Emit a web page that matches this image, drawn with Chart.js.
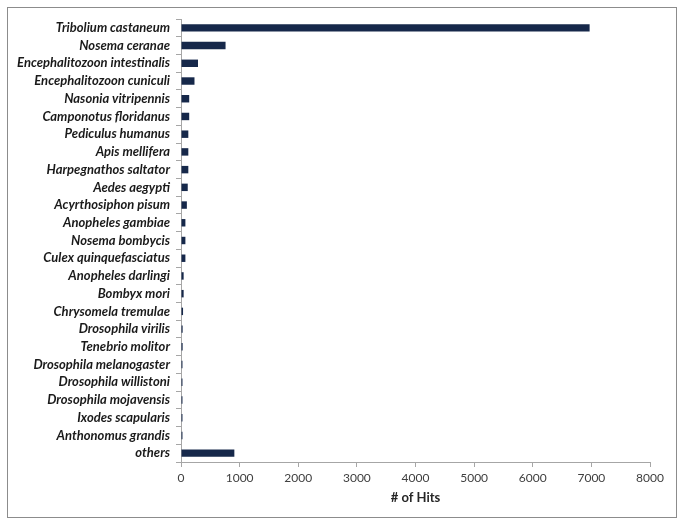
<!DOCTYPE html>
<html lang="en">
<head>
    <meta charset="UTF-8">
    <title>Hits per species</title>
    <script src="https://cdn.jsdelivr.net/npm/chart.js"></script>
    <style>
        body { margin: 0; background: #fff; }
        #frame { position: absolute; left: 7px; top: 7px; width: 668px; height: 509px; border: 1px solid #8c8c8c; }
        #wrap { position: absolute; left: 0; top: 0; width: 683px; height: 527px; }
    </style>
</head>
<body>
    <div id="frame"></div>
    <div id="wrap"><canvas id="hitsChart"></canvas></div>
    <script>
        const species = [
            'Tribolium castaneum', 'Nosema ceranae', 'Encephalitozoon intestinalis', 'Encephalitozoon cuniculi',
            'Nasonia vitripennis', 'Camponotus floridanus', 'Pediculus humanus', 'Apis mellifera',
            'Harpegnathos saltator', 'Aedes aegypti', 'Acyrthosiphon pisum', 'Anopheles gambiae',
            'Nosema bombycis', 'Culex quinquefasciatus', 'Anopheles darlingi', 'Bombyx mori',
            'Chrysomela tremulae', 'Drosophila virilis', 'Tenebrio molitor', 'Drosophila melanogaster',
            'Drosophila willistoni', 'Drosophila mojavensis', 'Ixodes scapularis', 'Anthonomus grandis', 'others'
        ];
        const hits = [
            6970, 760, 290, 230,
            140, 140, 125, 125,
            125, 115, 100, 75,
            75, 75, 45, 45,
            35, 28, 28, 25,
            25, 25, 25, 25, 910
        ];
        const xTicks = [0, 1000, 2000, 3000, 4000, 5000, 6000, 7000, 8000];

        const fontFamily = 'Lato, "Open Sans", sans-serif';

        new Chart(document.getElementById('hitsChart'), {
            type: 'bar',
            data: {
                labels: species,
                datasets: [{
                    data: hits,
                    backgroundColor: '#16284a',
                    barPercentage: 0.42,
                    categoryPercentage: 1
                }]
            },
            options: {
                indexAxis: 'y',
                responsive: true,
                maintainAspectRatio: false,
                animation: false,
                layout: { padding: { left: 0, right: 33, top: 19, bottom: 0 } },
                plugins: { legend: { display: false }, tooltip: { enabled: false } },
                scales: {
                    x: {
                        min: xTicks[0],
                        max: xTicks[xTicks.length - 1],
                        afterBuildTicks: s => { s.ticks = xTicks.map(v => ({ value: v })); },
                        afterFit: s => { s.height = 65; },
                        border: { color: '#a6a6a6' },
                        grid: { drawOnChartArea: false, drawTicks: true, tickLength: 5, color: '#a6a6a6' },
                        ticks: {
                            color: '#404040',
                            font: { family: fontFamily, size: 12 },
                            padding: 4,
                            callback: v => String(v)
                        },
                        title: {
                            display: true,
                            text: '# of Hits',
                            color: '#262626',
                            font: { family: fontFamily, size: 13, weight: 'bold' },
                            padding: { top: 6, bottom: 21 }
                        }
                    },
                    y: {
                        afterFit: s => { s.width = 181; },
                        border: { color: '#a6a6a6' },
                        grid: { drawOnChartArea: false, drawTicks: true, tickLength: 5, color: '#a6a6a6' },
                        ticks: {
                            color: '#1a1a1a',
                            autoSkip: false,
                            padding: 6,
                            font: { family: fontFamily, size: 13, weight: 'bold', style: 'italic' }
                        }
                    }
                }
            }
        });
    </script>
</body>
</html>
